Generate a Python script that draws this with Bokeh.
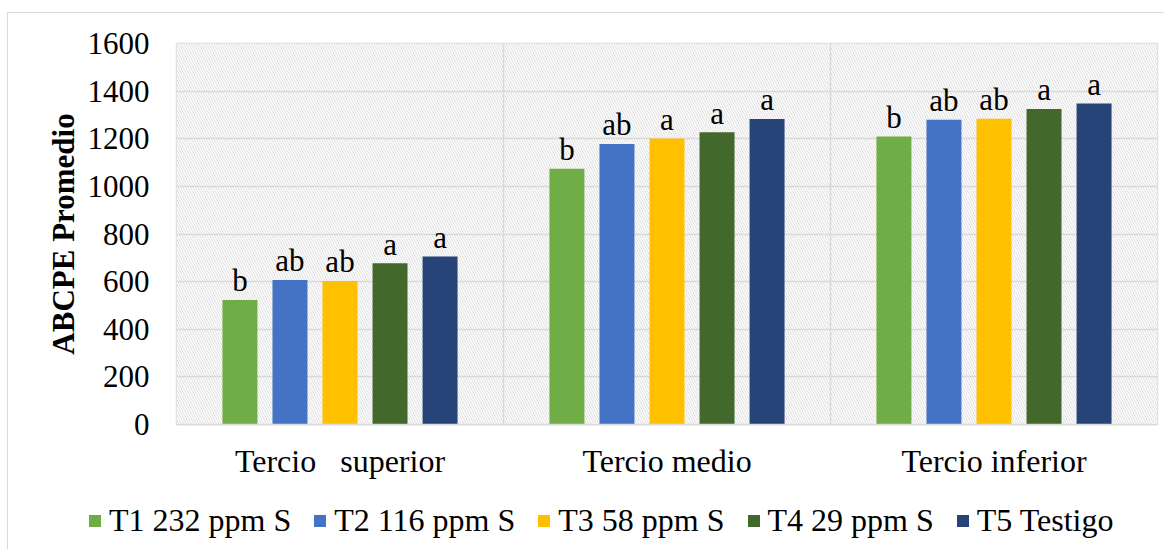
from bokeh.plotting import figure
from bokeh.models import (ColumnDataSource, FactorRange, Legend, LegendItem,
                          BoxAnnotation, FixedTicker, InlineStyleSheet)
from bokeh.transform import dodge
from bokeh.core.properties import value
from bokeh.embed import file_html
from bokeh.resources import INLINE

# ---- data ----
categories = ["Tercio \u00a0 superior", "Tercio medio", "Tercio inferior"]
series_names = ["T1 232 ppm S", "T2 116 ppm S", "T3 58 ppm S", "T4 29 ppm S", "T5 Testigo"]
T1 = [523, 1074, 1209]
T2 = [607, 1178, 1280]
T3 = [603, 1201, 1284]
T4 = [677, 1227, 1325]
T5 = [706, 1283, 1348]
L1 = ["b", "b", "b"]
L2 = ["ab", "ab", "ab"]
L3 = ["ab", "a", "ab"]
L4 = ["a", "a", "a"]
L5 = ["a", "a", "a"]
y_ticks = [0, 200, 400, 600, 800, 1000, 1200, 1400, 1600]

values = [T1, T2, T3, T4, T5]
letters = [L1, L2, L3, L4, L5]
colors = ["#70AD47", "#4472C4", "#FFC000", "#43682B", "#264478"]
offsets = [-0.306, -0.153, 0.0, 0.153, 0.306]
FONT = "Liberation Serif"
GRID = "#d9d9d9"

p = figure(x_range=FactorRange(factors=categories, range_padding=0),
           y_range=(0, 1600), width=1164, height=490,
           output_backend="svg", toolbar_location=None,
           min_border_left=176, min_border_right=7, min_border_top=43,
           min_border_bottom=66)

p.background_fill_color = "white"
p.border_fill_color = "white"
p.outline_line_color = GRID
p.outline_line_width = 1.5

# hatched plot-area background
p.add_layout(BoxAnnotation(level="image", fill_color="white", fill_alpha=1,
                           line_color=None, hatch_pattern="\\",
                           hatch_color="#dcdcdc", hatch_scale=5,
                           hatch_weight=1, hatch_alpha=1))

p.ygrid.ticker = FixedTicker(ticks=y_ticks)
p.ygrid.grid_line_color = GRID
p.ygrid.grid_line_width = 1.5
p.xgrid.grid_line_color = None

src = ColumnDataSource(data=dict(cat=categories,
                                 **{f"v{i}": v for i, v in enumerate(values)},
                                 **{f"l{i}": l for i, l in enumerate(letters)}))

# group separators
sep = ColumnDataSource(data=dict(cat=categories[:2], y0=[0, 0], y1=[1600, 1600]))
p.segment(x0=dodge("cat", 0.5, range=p.x_range), x1=dodge("cat", 0.5, range=p.x_range),
          y0="y0", y1="y1", source=sep, line_color=GRID, line_width=1.5)

for i in range(5):
    p.vbar(x=dodge("cat", offsets[i], range=p.x_range), top=f"v{i}",
           width=0.107, source=src, fill_color=colors[i], line_color=None)
    p.text(x=dodge("cat", offsets[i], range=p.x_range), y=f"v{i}", text=f"l{i}",
           source=src, text_align="center", text_baseline="alphabetic",
           y_offset=-19, text_font=value(FONT), text_font_size="31px",
           text_color="black")

# axes
p.yaxis.ticker = FixedTicker(ticks=y_ticks)
p.yaxis.axis_label = "ABCPE Promedio"
p.yaxis.axis_label_text_font = FONT
p.yaxis.axis_label_text_font_style = "bold"
p.yaxis.axis_label_text_font_size = "31px"
p.yaxis.axis_label_text_color = "black"
p.yaxis.axis_label_standoff = 4
p.yaxis.major_label_text_font = FONT
p.yaxis.major_label_text_font_size = "31px"
p.yaxis.major_label_text_color = "black"
p.yaxis.major_tick_line_color = None
p.yaxis.minor_tick_line_color = None
p.yaxis.major_tick_out = 0
p.yaxis.major_tick_in = 0
p.yaxis.major_label_standoff = 27
p.yaxis.axis_line_color = None

p.xaxis.major_label_text_font = FONT
p.xaxis.major_label_text_font_size = "32px"
p.xaxis.major_label_text_color = "black"
p.xaxis.major_tick_line_color = None
p.xaxis.major_tick_out = 0
p.xaxis.major_tick_in = 0
p.xaxis.major_label_standoff = 18
p.xaxis.axis_line_color = GRID
p.xaxis.axis_line_width = 1.5

p.stylesheets = [InlineStyleSheet(css=""":host { position: relative; }
:host::after { content: ""; position: absolute; left: 7px; top: 12px;
  right: 0px; bottom: 0px; border-left: 1px solid #d9d9d9;
  border-top: 1px solid #d9d9d9; pointer-events: none; z-index: 10; }""")]

# legend strip below the chart (separate root, so its frame spans full width)
lg = figure(width=1164, height=59, x_range=(0, 1), y_range=(0, 1),
            output_backend="svg", toolbar_location=None,
            x_axis_location=None, y_axis_location=None,
            min_border=0, outline_line_color=None)
lg.grid.visible = False
lg.background_fill_color = "white"
lg.border_fill_color = "white"
items = []
for i in range(5):
    r = lg.vbar(x=[-1], top=[0], width=0.1, fill_color=colors[i], line_color=None)
    items.append(LegendItem(label=series_names[i], renderers=[r]))
legend = Legend(items=items, orientation="horizontal", location=(87, 10),
                label_text_font=FONT, label_text_font_size="32px",
                label_text_color="black", glyph_width=15, glyph_height=15,
                label_standoff=7, spacing=21, padding=0, margin=0,
                border_line_color=None, background_fill_alpha=0)
lg.add_layout(legend, "center")
lg.stylesheets = [InlineStyleSheet(css=""":host { position: relative; }
:host::after { content: ""; position: absolute; left: 7px; top: 0px;
  bottom: 0px; border-left: 1px solid #d9d9d9; pointer-events: none; z-index: 10; }""")]

open("out.html", "w").write(file_html([p, lg], INLINE))
